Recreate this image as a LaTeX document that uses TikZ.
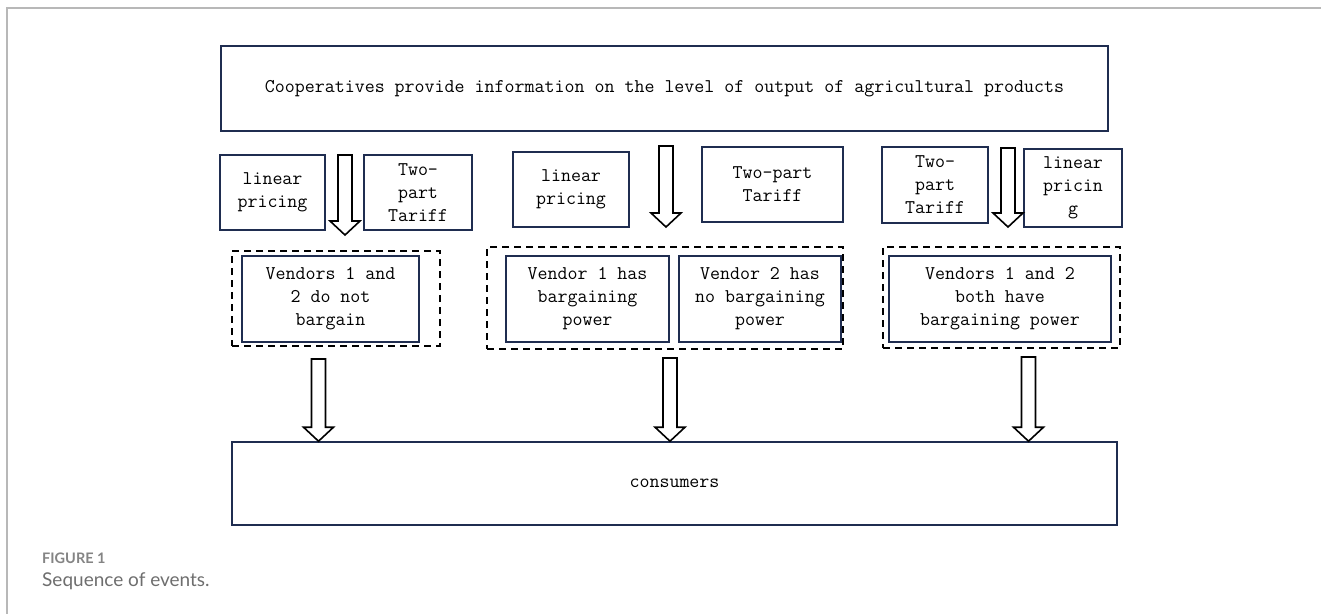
\documentclass[tikz,border=0pt]{standalone}
\usepackage{fontspec}
\newfontfamily\captionfont{Lato}
\usepackage{tikz}
\usetikzlibrary{calc}

\definecolor{boxnavy}{HTML}{1F2D50}
\definecolor{framegray}{HTML}{B8B8B8}
\definecolor{capgray}{HTML}{6E6E6E}

\tikzset{
  navybox/.style={draw=boxnavy, line width=1.6pt, inner sep=0pt, align=center,
    font=\ttfamily\fontsize{19.4}{23}\selectfont},
  dashbox/.style={draw=black, line width=1.6pt, dash pattern=on 7pt off 5pt, inner sep=0pt},
  hollow/.style={draw=black, line width=1.6pt, fill=white, line join=miter}
}

% hollow block arrow pointing down, from #1 (top) to #2 (tip)
\newcommand{\hollowarrow}[2]{%
  \draw[hollow] let \p1=(#1), \p2=(#2) in
    (\x1-7pt,\y1) -- (\x1+7pt,\y1) -- (\x1+7pt,\y2+14pt) -- (\x1+15pt,\y2+14pt)
    -- (\x1,\y2) -- (\x1-15pt,\y2+14pt) -- (\x1-7pt,\y2+14pt) -- cycle;}

\begin{document}
\begin{tikzpicture}[x=1pt,y=-1pt]
\useasboundingbox (0,0) rectangle (1321,614);
\draw[framegray, line width=1.2pt] (1321,8) -- (7,8) -- (7,614);

% top row
\node[navybox, minimum width=887pt, minimum height=85pt] (coop) at (664.5,88.5)
  {Cooperatives provide information on the level of output of agricultural products};

% pricing choices
\node[navybox, minimum width=105pt, minimum height=75pt] (lp1) at (272.5,192.5) {linear\\pricing};
\node[navybox, minimum width=108pt, minimum height=75pt] (tp1) at (418,192.5) {Two-\\part\\Tariff};
\node[navybox, minimum width=116pt, minimum height=75pt] (lp2) at (571,189.5) {linear\\pricing};
\node[navybox, minimum width=141pt, minimum height=75pt] (tp2) at (772.5,184.5) {Two-part\\Tariff};
\node[navybox, minimum width=106pt, minimum height=76pt] (tp3) at (935,185) {Two-\\part\\Tariff};
\node[navybox, minimum width=98pt, minimum height=78pt] (lp3) at (1073,188) {linear\\pricin\\g};

% bargaining cases
\node[dashbox, minimum width=208pt, minimum height=95pt] (case1) at (336,298.5) {};
\node[dashbox, minimum width=356pt, minimum height=102pt] (case2) at (665,298) {};
\node[dashbox, minimum width=237pt, minimum height=101pt] (case3) at (1001.5,297.5) {};
\node[navybox, minimum width=177pt, minimum height=86pt] (v1) at (330.5,299) {Vendors 1 and\\2 do not\\bargain};
\node[navybox, minimum width=163pt, minimum height=86pt] (v2a) at (587.5,299) {Vendor 1 has\\bargaining\\power};
\node[navybox, minimum width=162pt, minimum height=86pt] (v2b) at (760,299) {Vendor 2 has\\no bargaining\\power};
\node[navybox, minimum width=222pt, minimum height=86pt] (v3) at (1000,299) {Vendors 1 and 2\\both have\\bargaining power};

% bottom row
\node[navybox, minimum width=885pt, minimum height=83pt] (cons) at (674.5,483.5) {consumers};

% arrows
\coordinate (a1s) at (345,155);
\coordinate (a1e) at (345,235);
\coordinate (a2s) at (666,146);
\coordinate (a2e) at (666,227);
\coordinate (a3s) at (1008,148);
\coordinate (a3e) at (1008,227);
\coordinate (b1s) at (318.5,359);
\coordinate (b2s) at (670,358);
\coordinate (b3s) at (1028.5,357);
\coordinate (b1e) at (b1s |- cons.north);
\coordinate (b2e) at (b2s |- cons.north);
\coordinate (b3e) at (b3s |- cons.north);
\hollowarrow{a1s}{a1e}
\hollowarrow{a2s}{a2e}
\hollowarrow{a3s}{a3e}
\hollowarrow{b1s}{b1e}
\hollowarrow{b2s}{b2e}
\hollowarrow{b3s}{b3e}

% caption
\node[anchor=base west, inner sep=0pt, text=capgray!85,
  font=\captionfont\bfseries\fontsize{14.5}{17}\selectfont] (figlabel) at (42,563) {FIGURE 1};
\node[anchor=base west, inner sep=0pt, text=capgray,
  font=\captionfont\fontsize{19}{22}\selectfont] (figcaption) at (42,586) {Sequence of events.};
\end{tikzpicture}
\end{document}
